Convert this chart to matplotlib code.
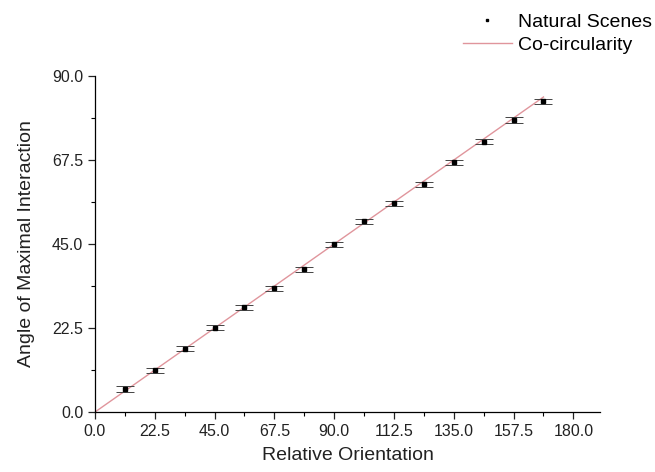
import matplotlib
matplotlib.use("Agg")
import matplotlib.pyplot as plt
from matplotlib.ticker import MultipleLocator, FormatStrFormatter
from matplotlib.lines import Line2D

plt.rcParams['font.family'] = ['Liberation Sans', 'DejaVu Sans']

# Data
orientation = [11.25, 22.5, 33.75, 45.0, 56.25, 67.5, 78.75, 90.0,
               101.25, 112.5, 123.75, 135.0, 146.25, 157.5, 168.75]
angle = [6.2, 11.2, 17.0, 22.6, 28.1, 33.1, 38.2, 44.9,
         51.1, 55.9, 61.0, 66.9, 72.4, 78.2, 83.2]
angle_err = [0.7, 0.7, 0.7, 0.7, 0.7, 0.7, 0.7, 0.7,
             0.7, 0.7, 0.7, 0.7, 0.7, 0.7, 0.6]
cocirc_x = [0.0, 168.75]
cocirc_y = [0.0, 84.375]
xticks = [0.0, 22.5, 45.0, 67.5, 90.0, 112.5, 135.0, 157.5, 180.0]
yticks = [0.0, 22.5, 45.0, 67.5, 90.0]

fig = plt.figure(figsize=(6.55, 4.72), dpi=100)
ax = fig.add_axes([0.145, 0.127, 0.771, 0.712])

ax.plot(cocirc_x, cocirc_y, color='#e0959c', lw=1.0, zorder=1)
ax.errorbar(orientation, angle, yerr=angle_err, fmt='s', ms=2.2,
            color='black', ecolor='#444444', elinewidth=0.7,
            capsize=6.5, capthick=0.7, zorder=3)

ax.set_xlim(0, 190)
ax.set_ylim(0, 90)
ax.set_xticks(xticks)
ax.set_yticks(yticks)
ax.xaxis.set_major_formatter(FormatStrFormatter('%.1f'))
ax.yaxis.set_major_formatter(FormatStrFormatter('%.1f'))
ax.xaxis.set_minor_locator(MultipleLocator(11.25))
ax.yaxis.set_minor_locator(MultipleLocator(11.25))
ax.tick_params(which='major', direction='out', length=5, width=0.9,
               labelsize=11.5, colors='#222222')
ax.tick_params(which='minor', direction='out', length=3, width=0.8)
for s in ['top', 'right']:
    ax.spines[s].set_visible(False)
for s in ['left', 'bottom']:
    ax.spines[s].set_linewidth(0.9)

ax.set_xlabel('Relative Orientation', fontsize=14, color='#222222', labelpad=6)
ax.set_ylabel('Angle of Maximal Interaction', fontsize=14, color='#222222', labelpad=12)

h1 = Line2D([], [], ls='none', marker='s', ms=2, color='black')
h2 = Line2D([], [], color='#e0959c', lw=1.0)
fig.legend([h1, h2], ['Natural Scenes', 'Co-circularity'],
           loc='upper right', bbox_to_anchor=(1.011, 0.993), frameon=False,
           fontsize=14, handlelength=2.5, handletextpad=0.35,
           labelspacing=0.3, borderaxespad=0.1)

fig.savefig('out.png', dpi=100)
